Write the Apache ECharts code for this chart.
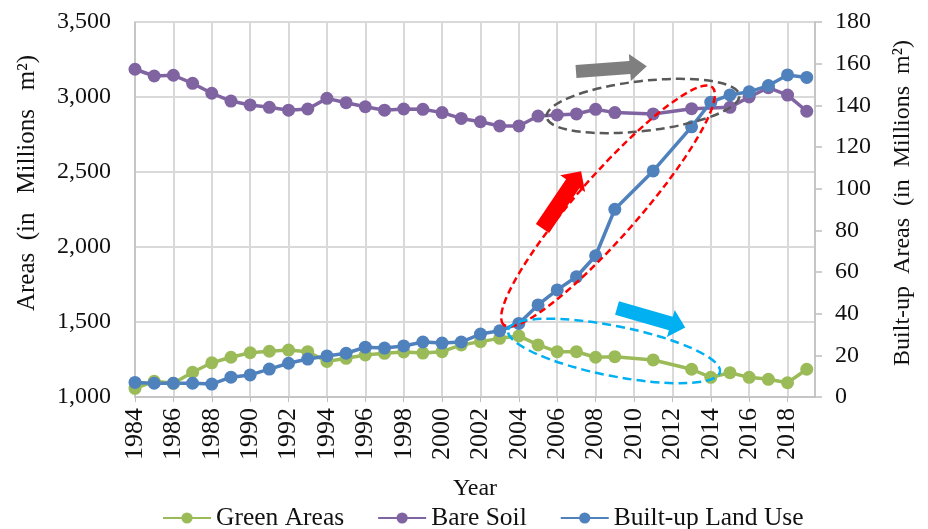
<!DOCTYPE html>
<html>
<head>
<meta charset="utf-8">
<script src="https://cdn.jsdelivr.net/npm/echarts@6/dist/echarts.min.js"></script>
<style>
  html, body { margin: 0; padding: 0; background: #fff; }
  #chart { width: 928px; height: 529px; }
</style>
</head>
<body>
<div id="chart"></div>
<script>
// years 1984..2019, null = no observation that year
const years = [1984, 1985, 1986, 1987, 1988, 1989, 1990, 1991, 1992, 1993, 1994, 1995,
  1996, 1997, 1998, 1999, 2000, 2001, 2002, 2003, 2004, 2005, 2006, 2007,
  2008, 2009, 2010, 2011, 2012, 2013, 2014, 2015, 2016, 2017, 2018, 2019]
const greenAreas = [1058, 1105, 1091, 1165, 1228, 1265, 1295, 1305, 1313, 1302, 1237, 1258,
  1280, 1291, 1300, 1293, 1302, 1347, 1369, 1391, 1407, 1347, 1302, 1302,
  1265, 1269, null, 1247, null, 1185, 1131, 1162, 1131, 1118, 1095, 1185]
const bareSoil = [3185, 3140, 3145, 3091, 3025, 2973, 2947, 2931, 2912, 2920, 2991, 2962,
  2935, 2912, 2920, 2918, 2896, 2857, 2835, 2807, 2807, 2873, 2880, 2887,
  2918, 2896, null, 2887, null, 2922, null, 2931, 3000, 3062, 3013, 2905]
const builtUp = [7, 6.6, 6.6, 6.6, 6.2, 9.5, 10.6, 13.4, 16.2, 18.2, 19.7, 21,
  23.9, 23.5, 24.5, 26.4, 25.9, 26.4, 30.2, 31.8, 35.3, 44.2, 51.4, 57.7,
  67.8, 90.1, null, 108.5, null, 129.7, 141.5, 145, 146.5, 149.5, 154.6, 153.4]
const seriesNames = ['Green Areas', 'Bare Soil', 'Built-up Land Use']
const seriesColors = ['#9BBB59', '#8064A2', '#4F81BD']

const FONT = '"Liberation Serif", "Times New Roman", serif'

function pairs(vals) {
  const out = []
  vals.forEach((v, i) => {
    if (v !== null) out.push([years[i], v])
  })
  return out
}

// block arrow polygon, angle in degrees (counter-clockwise, screen)
function blockArrow(tx, ty, angle, shaftLen, shaftW, headLen, headW) {
  const a = angle * Math.PI / 180
  const dx = Math.cos(a), dy = -Math.sin(a)
  const nx = Math.sin(a), ny = Math.cos(a)
  const bx = tx + dx * shaftLen, by = ty + dy * shaftLen
  return [
    [tx + nx * shaftW / 2, ty + ny * shaftW / 2],
    [bx + nx * shaftW / 2, by + ny * shaftW / 2],
    [bx + nx * headW / 2, by + ny * headW / 2],
    [bx + dx * headLen, by + dy * headLen],
    [bx - nx * headW / 2, by - ny * headW / 2],
    [bx - nx * shaftW / 2, by - ny * shaftW / 2],
    [tx - nx * shaftW / 2, ty - ny * shaftW / 2],
  ]
}

function dashedEllipse(cx, cy, rx, ry, angle, color, dash) {
  return {
    type: 'ellipse',
    x: cx,
    y: cy,
    rotation: angle * Math.PI / 180,
    shape: { cx: 0, cy: 0, rx: rx, ry: ry },
    style: { fill: null, stroke: color, lineWidth: 2.5, lineDash: dash },
    z: 100,
  }
}

const myChart = echarts.init(document.getElementById('chart'))

const option = {
  animation: false,
  color: seriesColors,
  textStyle: { fontFamily: FONT },
  grid: { left: 135, right: 113, top: 22, bottom: 132, containLabel: false },
  legend: {
    data: seriesNames,
    top: 500,
    left: 157,
    itemWidth: 48,
    itemHeight: 14,
    itemGap: 33,
    textStyle: { fontFamily: FONT, fontSize: 25.5, color: '#111' },
  },
  xAxis: {
    type: 'value',
    min: 1984,
    max: 2019.43,
    interval: 2,
    name: 'Year',
    nameLocation: 'middle',
    nameGap: 80,
    nameTextStyle: { fontFamily: FONT, fontSize: 24, color: '#111' },
    axisLine: { lineStyle: { color: '#bfbfbf', width: 1.5 } },
    axisTick: { show: true, length: 5, lineStyle: { color: '#bfbfbf' } },
    axisLabel: {
      rotate: 90,
      margin: 11,
      fontFamily: FONT,
      fontSize: 26,
      color: '#111',
      showMaxLabel: false,
      formatter: (v) => String(v),
    },
    splitLine: { show: true, lineStyle: { color: '#d9d9d9', width: 2 } },
  },
  yAxis: [
    {
      type: 'value',
      min: 1000,
      max: 3500,
      interval: 500,
      axisLine: { show: true, lineStyle: { color: '#bfbfbf', width: 1.5 } },
      axisTick: { show: false },
      axisLabel: {
        margin: 24,
        fontFamily: FONT,
        fontSize: 24,
        color: '#111',
        formatter: (v) => v.toLocaleString('en-US'),
      },
      splitLine: { show: true, lineStyle: { color: '#d9d9d9', width: 2 } },
    },
    {
      type: 'value',
      min: 0,
      max: 180,
      interval: 20,
      position: 'right',
      axisLine: { show: true, lineStyle: { color: '#bfbfbf', width: 1.5 } },
      axisTick: { show: true, length: 7, lineStyle: { color: '#bfbfbf', width: 1.5 } },
      axisLabel: { margin: 20, fontFamily: FONT, fontSize: 24, color: '#111' },
      splitLine: { show: false },
    },
  ],
  series: [
    { name: seriesNames[0], type: 'line', yAxisIndex: 0, data: pairs(greenAreas) },
    { name: seriesNames[1], type: 'line', yAxisIndex: 0, data: pairs(bareSoil) },
    { name: seriesNames[2], type: 'line', yAxisIndex: 1, data: pairs(builtUp) },
  ].map((s) => Object.assign(s, {
    symbol: 'circle',
    symbolSize: 13,
    showSymbol: true,
    lineStyle: { width: 3.5 },
  })),
  graphic: [
    {
      type: 'text',
      x: 27,
      y: 183,
      rotation: Math.PI / 2,
      style: {
        text: 'Areas  (in   Millions   m²)',
        font: '25px ' + FONT,
        fill: '#111',
        textAlign: 'center',
        textVerticalAlign: 'middle',
      },
    },
    {
      type: 'text',
      x: 903,
      y: 203,
      rotation: Math.PI / 2,
      style: {
        text: 'Built-up  Areas  (in  Millions  m²)',
        font: '24px ' + FONT,
        fill: '#111',
        textAlign: 'center',
        textVerticalAlign: 'middle',
      },
    },
    dashedEllipse(643, 106, 97, 25, 6.5, '#595959', [9, 5]),
    dashedEllipse(608, 206, 158, 31, 48.7, '#ff0000', [7, 4]),
    dashedEllipse(614, 351, 108, 25, -11.2, '#00b0f0', [9, 5]),
    { type: 'polygon', shape: { points: blockArrow(576, 71.5, 4.2, 54, 13, 17, 27) }, style: { fill: '#7f7f7f' }, z: 100 },
    { type: 'polygon', shape: { points: blockArrow(542.5, 228.5, 56, 54, 16, 15, 30) }, style: { fill: '#ff0000' }, z: 100 },
    { type: 'polygon', shape: { points: blockArrow(617, 308, -16, 56, 14, 15, 28) }, style: { fill: '#00b0f0' }, z: 100 },
  ],
}

myChart.setOption(option)
</script>
</body>
</html>
